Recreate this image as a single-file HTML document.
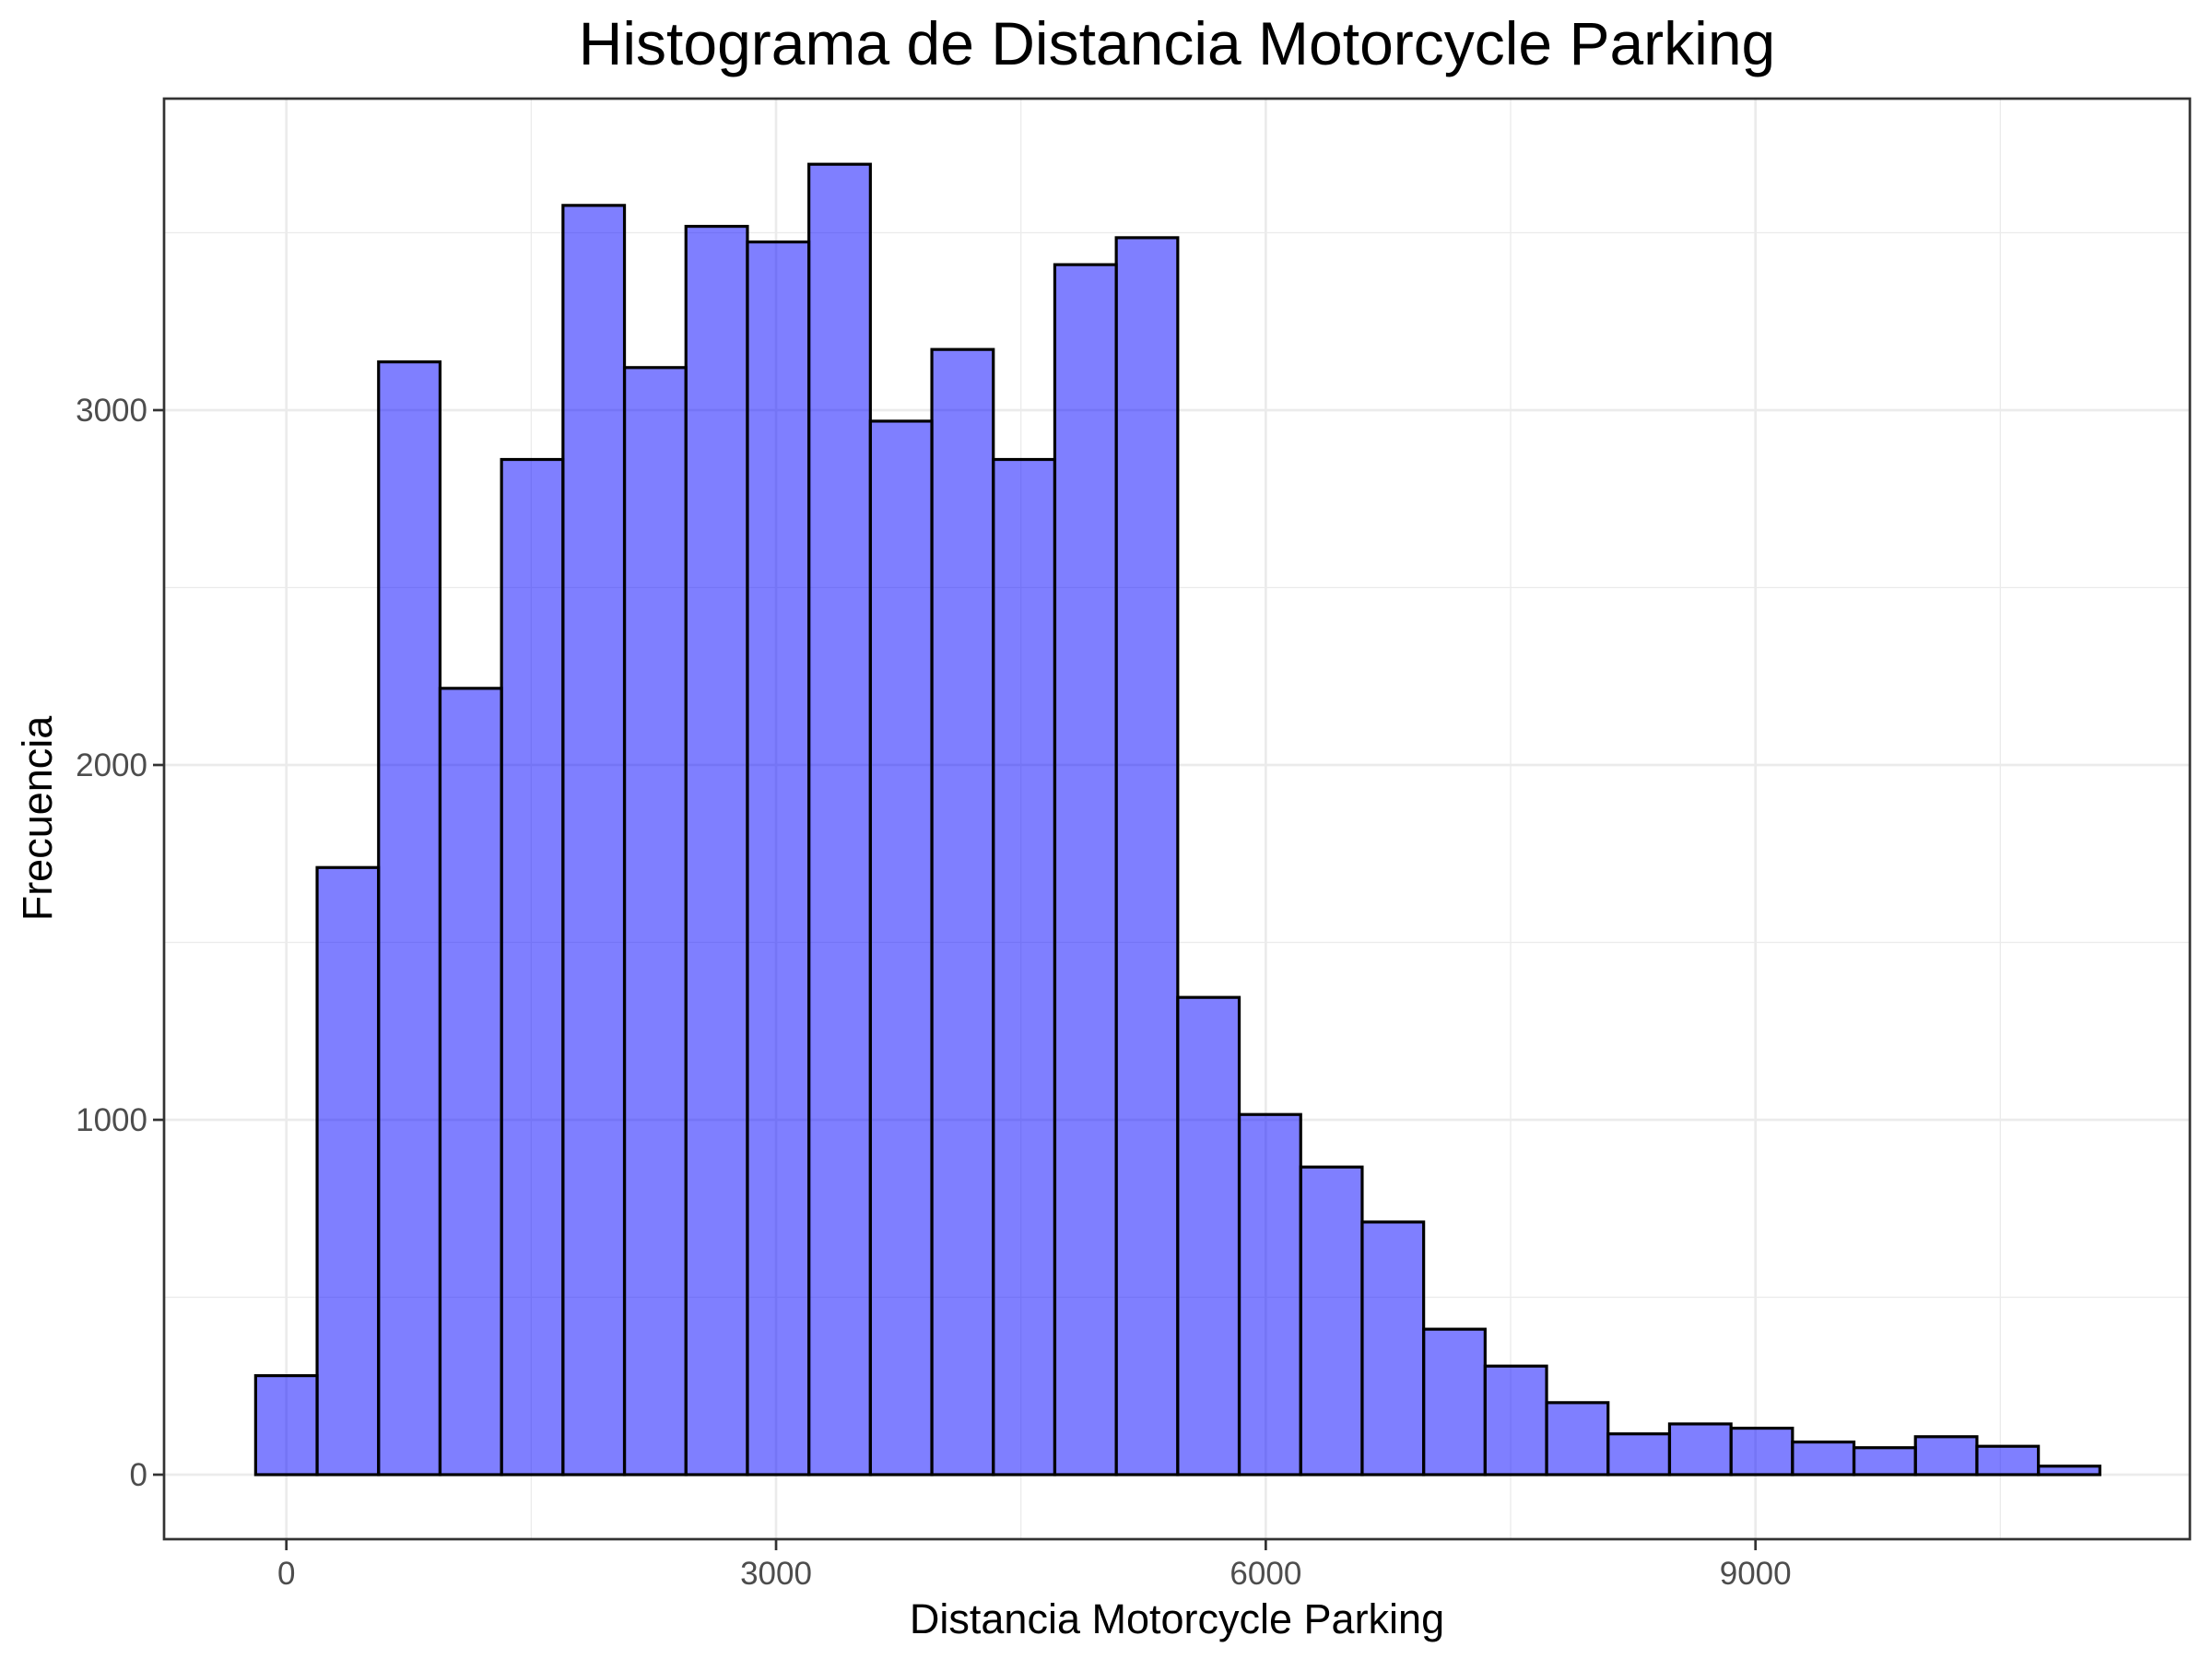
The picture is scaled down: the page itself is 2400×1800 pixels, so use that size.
<!DOCTYPE html>
<html><head><meta charset="utf-8"><style>
body{margin:0;background:#fff}
svg{display:block;font-family:"Liberation Sans",Arial,sans-serif}
</style></head><body>
<svg id="chart" width="2400" height="1800" viewBox="0 0 2400 1800">
<rect width="2400" height="1800" fill="#fff"/>
<g id="grid"></g><g id="bars"></g><g id="axes"></g>
<text x="1277" y="70" font-size="66" text-anchor="middle" fill="#000">Histograma de Distancia Motorcycle Parking</text>
<text x="1277" y="1772" font-size="45" text-anchor="middle" fill="#000">Distancia Motorcycle Parking</text>
<text x="0" y="0" font-size="45" text-anchor="middle" fill="#000" transform="translate(56,888) rotate(-90)">Frecuencia</text>
</svg>
<script>
const counts=[279,1711,3136,2216,2861,3577,3120,3518,3474,3693,2969,3171,2861,3410,3486,1345,1015,867,712,410,306,203,115,143,131,92,76,107,80,24];
const binStart=-188.3;
const binWidth=376.6;
const xTicks=[0,3000,6000,9000];
const xMinor=[1500,4500,7500,10500];
const yTicks=[0,1000,2000,3000];
const yMinor=[500,1500,2500,3500];
const L=178,R=2376,T=107,B=1670;
const x0=310.7,xs=0.17711,y0=1600,ys=0.385;
const X=v=>x0+v*xs, Y=v=>y0-v*ys;
const NS="http://www.w3.org/2000/svg";
function mk(t,a,p){const e=document.createElementNS(NS,t);for(const k in a)e.setAttribute(k,a[k]);p.appendChild(e);return e;}
const grid=document.getElementById('grid'),bars=document.getElementById('bars'),axes=document.getElementById('axes');
xMinor.forEach(v=>{const l=mk('line',{x1:X(v),x2:X(v),y1:T,y2:B,stroke:'#ebebeb','stroke-width':1.3},grid);

});
yMinor.forEach(v=>{const l=mk('line',{x1:L,x2:R,y1:Y(v),y2:Y(v),stroke:'#ebebeb','stroke-width':1.3},grid);

});
xTicks.forEach(v=>{const l=mk('line',{x1:X(v),x2:X(v),y1:T,y2:B,stroke:'#ebebeb','stroke-width':2.7},grid);


const tk=mk('line',{x1:X(v),x2:X(v),y1:B,y2:B+12,stroke:'#333','stroke-width':2.7},axes);


const t=mk('text',{x:X(v),y:B+49,'font-size':35,'text-anchor':'middle',fill:'#4d4d4d'},axes);t.textContent=v;

});
yTicks.forEach(v=>{const l=mk('line',{x1:L,x2:R,y1:Y(v),y2:Y(v),stroke:'#ebebeb','stroke-width':2.7},grid);


const tk=mk('line',{x1:L-12,x2:L,y1:Y(v),y2:Y(v),stroke:'#333','stroke-width':2.7},axes);


const t=mk('text',{x:L-18,y:Y(v)+12,'font-size':35,'text-anchor':'end',fill:'#4d4d4d'},axes);t.textContent=v;

});
counts.forEach((c,i)=>{const a=binStart+i*binWidth;const r=mk('rect',{x:X(a),y:Y(c),width:binWidth*xs,height:Y(0)-Y(c),fill:'rgba(0,0,255,0.5)',stroke:'#000','stroke-width':3.2},bars);

});
const f=mk('rect',{x:L,y:T,width:R-L,height:B-T,fill:'none',stroke:'#333','stroke-width':2.7},axes);


</script>
</body></html>
